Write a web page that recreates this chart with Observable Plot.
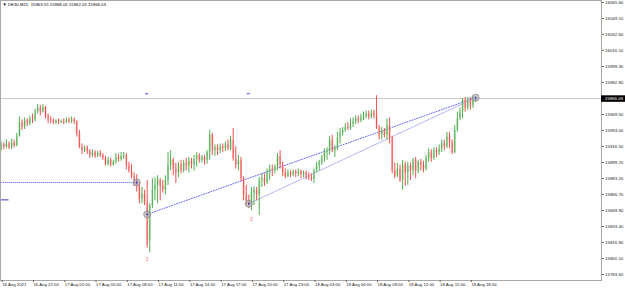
<!DOCTYPE html>
<html><head><meta charset="utf-8">
<script src="https://cdn.jsdelivr.net/npm/d3@7"></script>
<script src="https://cdn.jsdelivr.net/npm/@observablehq/plot@0.6"></script>
<style>body{margin:0;background:#fff}</style>
</head><body><div id="chart"></div>
<script>
const titleText = "\u25BC DE30,M15  15963.55 15968.05 15962.05 15966.03";
const xLabelBars = [0,12,24,36,48,60,72,84,96,108,120,132,144,156,168,180];
const xLabels = ["16 Aug 2021","16 Aug 22:00","17 Aug 02:00","17 Aug 05:00","17 Aug 08:00","17 Aug 11:00","17 Aug 14:00","17 Aug 17:00","17 Aug 20:00","17 Aug 23:00","18 Aug 03:00","18 Aug 06:00","18 Aug 09:00","18 Aug 12:00","18 Aug 15:00","18 Aug 18:00"];
const yTicks = [16065.60,16049.10,16032.60,16016.10,15999.30,15982.80,15949.50,15933.00,15916.50,15899.70,15883.20,15866.70,15849.90,15833.40,15816.90,15800.10,15783.60];
const lastPrice = 15966.03;

const open = [15915,15918,15916,15919,15915,15920,15917,15927,15941,15936,
15943,15940,15945,15944,15952,15956,15952,15957,15947,15944,
15943,15941,15943,15941,15942,15941,15944,15942,15944,15942,
15929,15916,15912,15915,15911,15907,15910,15906,15909,15907,
15904,15898,15902,15897,15900,15905,15903,15906,15907,15896,
15891,15885,15881,15876,15862,15867,15858,15819,15855,15871,
15876,15881,15875,15871,15881,15897,15902,15893,15889,15897,
15891,15899,15896,15901,15897,15903,15907,15902,15905,15902,
15910,15928,15912,15915,15912,15916,15914,15918,15914,15923,
15904,15897,15902,15883,15866,15860,15857,15868,15871,15866,
15881,15883,15879,15889,15893,15891,15895,15906,15897,15889,
15885,15889,15887,15890,15888,15890,15887,15889,15886,15884,
15882,15891,15896,15900,15904,15910,15912,15923,15912,15914,
15925,15930,15933,15936,15935,15939,15942,15945,15943,15946,
15947,15950,15947,15951,15948,15936,15928,15933,15928,15938,
15925,15891,15886,15893,15881,15897,15889,15896,15891,15902,
15891,15900,15897,15893,15904,15910,15904,15912,15910,15914,
15919,15916,15926,15920,15910,15933,15945,15952,15964,15956,
15964,15959,15963.55];
const high = [15921,15920,15923,15921,15924,15923,15930,15947,15944,15946,
15945,15948,15950,15955,15960,15959,15960,15958,15950,15947,
15945,15944,15945,15944,15945,15946,15946,15947,15946,15943,
15933,15919,15917,15917,15913,15913,15912,15911,15912,15909,
15906,15905,15904,15902,15909,15908,15910,15910,15909,15900,
15898,15889,15887,15879,15874,15871,15881,15857,15883,15884,
15886,15883,15881,15886,15910,15912,15904,15899,15900,15902,
15902,15904,15905,15904,15907,15910,15909,15907,15907,15912,
15933,15930,15918,15918,15919,15919,15921,15923,15927,15935,
15916,15907,15905,15885,15876,15866,15874,15875,15874,15884,
15888,15888,15893,15897,15897,15897,15909,15912,15900,15893,
15892,15891,15892,15892,15893,15892,15891,15891,15889,15888,
15893,15900,15902,15907,15914,15915,15927,15928,15917,15931,
15935,15936,15940,15941,15945,15946,15948,15948,15950,15952,
15953,15953,15954,15954,15969,15938,15936,15935,15945,15946,
15927,15899,15899,15897,15902,15900,15900,15899,15904,15905,
15902,15903,15901,15907,15914,15913,15915,15915,15918,15923,
15923,15931,15931,15923,15938,15952,15956,15966,15967,15967,
15967,15968,15968.05];
const low = [15912,15913,15914,15913,15913,15915,15916,15926,15933,15934,
15937,15938,15940,15942,15950,15948,15951,15945,15940,15940,
15939,15939,15939,15940,15939,15940,15940,15940,15939,15926,
15914,15908,15910,15908,15904,15905,15904,15905,15905,15902,
15896,15896,15895,15896,15898,15900,15901,15903,15892,15889,
15883,15875,15869,15857,15857,15855,15811,15806,15852,15860,
15857,15860,15868,15866,15876,15891,15886,15878,15884,15888,
15889,15891,15889,15893,15891,15895,15899,15899,15897,15898,
15902,15907,15906,15907,15909,15910,15911,15912,15912,15901,
15893,15891,15880,15860,15855,15852,15850,15855,15860,15845,
15874,15875,15877,15881,15885,15888,15891,15893,15885,15883,
15884,15884,15885,15884,15885,15883,15884,15882,15881,15880,
15878,15889,15891,15897,15900,15902,15907,15910,15905,15912,
15919,15927,15931,15933,15933,15936,15939,15940,15941,15943,
15945,15944,15945,15945,15934,15923,15923,15925,15923,15919,
15888,15883,15884,15879,15871,15875,15876,15881,15886,15883,
15888,15891,15889,15891,15900,15900,15902,15905,15907,15910,
15912,15914,15914,15908,15909,15931,15943,15945,15952,15954,
15954,15956,15962.05];
const close = [15918,15916,15919,15915,15920,15917,15927,15941,15936,15943,
15940,15945,15944,15952,15956,15952,15957,15947,15944,15943,
15941,15943,15941,15942,15941,15944,15942,15944,15942,15929,
15916,15912,15915,15911,15907,15910,15906,15909,15907,15904,
15898,15902,15897,15900,15905,15903,15906,15907,15896,15891,
15885,15881,15876,15862,15867,15858,15814,15855,15871,15876,
15881,15875,15871,15881,15897,15902,15893,15889,15897,15891,
15899,15896,15901,15897,15903,15907,15902,15905,15902,15910,
15928,15912,15915,15912,15916,15914,15918,15914,15923,15904,
15897,15902,15883,15866,15860,15857,15868,15871,15866,15881,
15883,15879,15889,15893,15891,15895,15906,15897,15889,15885,
15889,15887,15890,15888,15890,15887,15889,15886,15884,15882,
15891,15896,15900,15904,15910,15912,15923,15912,15914,15925,
15930,15933,15936,15935,15939,15942,15945,15943,15946,15947,
15950,15947,15951,15948,15936,15928,15933,15928,15938,15925,
15891,15886,15893,15881,15897,15889,15896,15891,15902,15891,
15900,15897,15893,15904,15910,15904,15912,15910,15914,15919,
15916,15926,15920,15910,15933,15945,15952,15964,15956,15964,
15959,15965,15966.03];

const circleBars = [52,56,95,182];
const circlePrices = [15879,15846,15857,15967];
const trendA = [{bar:56, price:15846},{bar:182, price:15967}];
const trendB = [{bar:95, price:15857},{bar:182, price:15967}];
const hLinePrice = 15879, hLineEndBar = 52;
const shortLinePrice = 15861, shortLineEndBar = 3;
const topMarkBars = [56,95], topMarkPrice = 15971;
const zeroBars = [56,96], zeroPrices = [15799,15841];

const bars = open.map((o,i)=>({i, o, h: high[i], l: low[i], c: close[i]}));
const ups = bars.filter(d => d.c >= d.o);
const downs = bars.filter(d => d.c < d.o);
const circles = circleBars.map((b,k)=>({bar:b, price:circlePrices[k]}));
const zeros = zeroBars.map((b,k)=>({bar:b, price:zeroPrices[k]}));
const labelByBar = new Map(xLabelBars.map((b,k)=>[b, xLabels[k]]));
const xDomain = [-0.27, 230.3];
const yDomain = [15777.4, 16067.7];

const chart = Plot.plot({
  width: 625, height: 288,
  marginLeft: 0, marginRight: 24, marginTop: 0, marginBottom: 8,
  style: {fontFamily: "'Liberation Sans', Arial, sans-serif", fontSize: "4.5px", background: "#fff", overflow: "visible", color: "#222"},
  x: {domain: xDomain},
  y: {domain: yDomain},
  marks: [
    Plot.ruleY([lastPrice], {stroke: "#c8c8c8", strokeWidth: 1}),
    Plot.ruleY([hLinePrice], {x1: 0, x2: hLineEndBar, stroke: "#4a4af0", strokeDasharray: "1,1"}),
    Plot.ruleY([shortLinePrice], {x1: xDomain[0], x2: shortLineEndBar, stroke: "#3a3aa8", strokeWidth: 1}),
    Plot.line(trendA, {x: "bar", y: "price", stroke: "#5050f0", strokeDasharray: "1,1.6", strokeWidth: 0.9}),
    Plot.line(trendB, {x: "bar", y: "price", stroke: "#a4a4f4", strokeDasharray: "1.5,1", strokeWidth: 0.9}),
    Plot.ruleX(ups, {x: "i", y1: "o", y2: "c", stroke: "#b8dfb8", strokeWidth: 2}),
    Plot.ruleX(downs, {x: "i", y1: "o", y2: "c", stroke: "#f8bcbc", strokeWidth: 2}),
    Plot.ruleX(ups, {x: "i", y1: "l", y2: "h", stroke: "#52ad52", strokeWidth: 1}),
    Plot.ruleX(downs, {x: "i", y1: "l", y2: "h", stroke: "#ee5050", strokeWidth: 1}),
    Plot.ruleY(topMarkBars, {y: () => topMarkPrice, x1: d => d - 0.6, x2: d => d + 0.6, stroke: "#4a4af0", strokeWidth: 1}),
    Plot.dot(circles, {x: "bar", y: "price", r: 3.5, fill: "#a8a8a8", fillOpacity: 0.6, stroke: "#8c8c8c", strokeWidth: 0.8}),
    Plot.dot(circles, {x: "bar", y: "price", r: 0.9, fill: "#3030d0"}),
    Plot.text(zeros, {x: "bar", y: "price", text: () => "0", fill: "#f07070", fontSize: 5}),
    Plot.frame({stroke: "#a8a8a8"}),
    Plot.axisX({ticks: xLabelBars, tickFormat: d => labelByBar.get(d), tickSize: 2, tickPadding: 0.5, textAnchor: "start", dx: 1, fontSize: 4.3, label: null, stroke: "#666"}),
    Plot.axisY({anchor: "right", ticks: yTicks, tickFormat: d => d.toFixed(2), tickSize: 2, tickPadding: 1.5, fontSize: 4.4, label: null, stroke: "#666"}),
    Plot.ruleY([lastPrice], {x1: xDomain[1], x2: xDomain[1] + 9.3, stroke: "#000", strokeWidth: 6.5}),
    Plot.text([lastPrice], {x: xDomain[1], y: d => d, text: d => d.toFixed(2), textAnchor: "start", dx: 3.2, fill: "#fff", fontSize: 4.4}),
    Plot.text([titleText], {frameAnchor: "top-left", dx: 2, dy: 2, textAnchor: "start", lineAnchor: "top", fill: "#000", fontSize: 4.3})
  ]
});
document.getElementById("chart").appendChild(chart);
</script>
</body></html>
